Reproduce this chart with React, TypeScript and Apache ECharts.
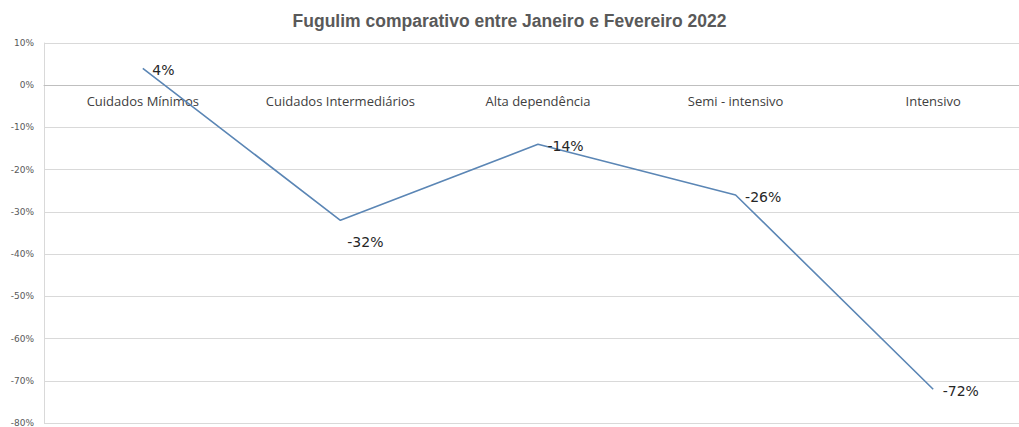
import React, { useEffect, useRef } from "react";
import * as echarts from "echarts";

const categories = ["Cuidados Mínimos", "Cuidados Intermediários", "Alta dependência", "Semi - intensivo", "Intensivo"];
const values = [0.04, -0.32, -0.14, -0.26, -0.72];
const labels = ["4%", "-32%", "-14%", "-26%", "-72%"];
const title = "Fugulim comparativo entre Janeiro e Fevereiro 2022";

const Y_MIN = -0.8;
const Y_MAX = 0.1;
const GRID_TOP = 43;
const GRID_HEIGHT = 380;

export default function App() {
  const ref = useRef<HTMLDivElement>(null);
  useEffect(() => {
    if (!ref.current) return;
    const chart = echarts.init(ref.current, undefined, { renderer: "svg" });
    const zeroOffset = -(GRID_HEIGHT * (0 - Y_MIN)) / (Y_MAX - Y_MIN);
    chart.setOption({
      animation: false,
      title: {
        text: title,
        left: "center",
        top: 7,
        textStyle: { fontFamily: "Liberation Sans, Arial, sans-serif", fontSize: 17.5, fontWeight: "bold", color: "#595959" },
      },
      grid: { left: 44, top: GRID_TOP, width: 988, height: GRID_HEIGHT, outerBoundsMode: "none", containLabel: false },
      xAxis: {
        type: "category",
        data: categories,
        boundaryGap: true,
        position: "bottom",
        offset: zeroOffset,
        axisLine: { onZero: false, lineStyle: { color: "#bfbfbf", width: 1 } },
        axisTick: { show: false },
        axisLabel: { fontFamily: "Open Sans, sans-serif", fontSize: 13, color: "#404040", margin: 9, interval: 0 },
        splitLine: { show: false },
      },
      yAxis: {
        type: "value",
        min: Y_MIN,
        max: Y_MAX,
        interval: 0.1,
        axisLine: { show: true, lineStyle: { color: "#d9d9d9" } },
        axisTick: { show: false },
        axisLabel: {
          fontFamily: "DejaVu Sans, sans-serif",
          fontSize: 9,
          color: "#595959",
          margin: 10,
          formatter: (v: number) => Math.round(v * 100) + "%",
        },
        splitLine: { show: true, lineStyle: { color: "#d9d9d9", width: 1 } },
      },
      series: [
        {
          type: "line",
          data: values.map((v, i) => ({
            value: v,
            label: i === 1 ? { show: true, position: "bottom", offset: [25, 9] } : { show: true, position: "right", offset: [4, 2] },
          })),
          symbol: "circle",
          symbolSize: 1,
          showSymbol: true,
          itemStyle: { color: "rgba(0,0,0,0)" },
          lineStyle: { color: "#5b86b5", width: 1.6 },
          label: {
            show: true,
            fontFamily: "DejaVu Sans, sans-serif",
            fontSize: 14,
            color: "#262626",
            formatter: (p: any) => labels[p.dataIndex],
          },
        },
      ],
    });
    return () => chart.dispose();
  }, []);
  return <div ref={ref} style={{ width: 1019, height: 427, position: "absolute", left: 0, top: 0 }} />;
}
